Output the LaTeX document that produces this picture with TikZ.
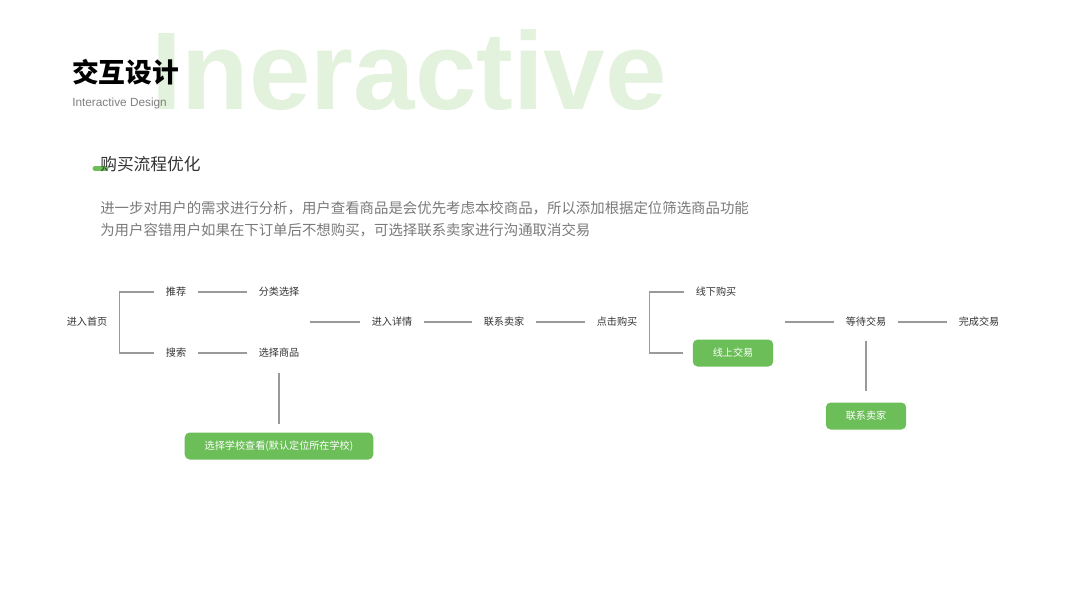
\documentclass[tikz,border=0pt]{standalone}
\usepackage{fontspec}
\setmainfont{Liberation Sans}
\newfontfamily\cjk{Noto Sans CJK SC}
\newfontfamily\latin{Liberation Sans}

\definecolor{leaf}{HTML}{6CBE58}
\definecolor{mist}{HTML}{E2F2DC}
\definecolor{ink}{HTML}{333333}
\definecolor{note}{HTML}{7A7A7A}
\definecolor{wire}{HTML}{9A9A9A}

\tikzset{
  lbl/.style={font=\cjk\fontsize{7.2}{8.6}\selectfont, text=ink,
    inner xsep=8.3pt, inner ysep=2pt},
  greenbox/.style={fill=leaf, rounded corners=3.5pt, text=white,
    font=\cjk\fontsize{7.2}{8.6}\selectfont,
    inner xsep=14.2pt, minimum height=19.2pt},
  link/.style={draw=wire, line width=0.8pt}
}

\begin{document}
\begin{tikzpicture}[x=0.025cm, y=-0.025cm]

    % Page
    \useasboundingbox[fill=white] (0,0) rectangle (1067,600);

    % Background word
    \node[anchor=base west, inner sep=0, text=mist,
      font=\latin\bfseries\fontsize{78.5}{78.5}\selectfont] (bigword) at (151,109) {Ineractive};

    % Title
    \node[anchor=west, inner sep=0, text=black,
      font=\cjk\bfseries\fontsize{19}{20}\selectfont] (title) at (72,72) {交互设计};
    \node[anchor=west, inner sep=0, text=gray,
      font=\latin\fontsize{8.4}{10}\selectfont] (subtitle) at (72,103) {Interactive Design};

    % Section heading
    \draw[leaf, line width=3.5pt, line cap=round] (95,168.5) -- (106,168.5);
    \node[anchor=west, inner sep=0, text=ink,
      font=\cjk\fontsize{11.9}{14}\selectfont] (heading) at (100,164) {购买流程优化};

    % Description
    \node[anchor=west, inner sep=0, align=left, text=note,
      font=\cjk\fontsize{10.25}{15.6}\selectfont] (desc) at (100,219)
      {进一步对用户的需求进行分析，用户查看商品是会优先考虑本校商品，所以添加根据定位筛选商品功能\\
       为用户容错用户如果在下订单后不想购买，可选择联系卖家进行沟通取消交易};

    % Flow: browsing
    \node[lbl] (home) at (87,322) {进入首页};
    \node[lbl] (recommend) at (176,292) {推荐};
    \node[lbl] (category) at (279,292) {分类选择};
    \node[lbl] (search) at (176,353) {搜索};
    \node[lbl] (pickgoods) at (279,353) {选择商品};
    \node[greenbox] (school) at (279,446) {选择学校查看(默认定位所在学校)};

    % Flow: purchase
    \node[lbl] (detail) at (392,322) {进入详情};
    \node[lbl] (contact) at (504,322) {联系卖家};
    \node[lbl] (clickbuy) at (617,322) {点击购买};
    \node[lbl] (offline) at (716,292) {线下购买};
    \node[greenbox] (online) at (733,353) {线上交易};
    \node[lbl] (waiting) at (866,322) {等待交易};
    \node[lbl] (done) at (979,322) {完成交易};
    \node[greenbox] (contact2) at (866,416) {联系卖家};

    % Free line ends
    \coordinate (join1) at (310,322);
    \coordinate (join2) at (785,322);

    % Connectors
    \draw[link] (recommend.west) -| (home.east) |- (search.west);
    \draw[link] (recommend) -- (category);
    \draw[link] (search) -- (pickgoods);
    \draw[link, shorten <=8.5pt, shorten >=5.7pt] (pickgoods) -- (school);
    \draw[link] (join1) -- (detail);
    \draw[link] (detail) -- (contact);
    \draw[link] (contact) -- (clickbuy);
    \draw[link] (offline.west) -| (clickbuy.east) |- ([xshift=-7pt]online.west);
    \draw[link] (join2) -- (waiting);
    \draw[link] (waiting) -- (done);
    \draw[link, shorten <=7.8pt, shorten >=7.8pt] (waiting) -- (contact2);

\end{tikzpicture}
\end{document}
